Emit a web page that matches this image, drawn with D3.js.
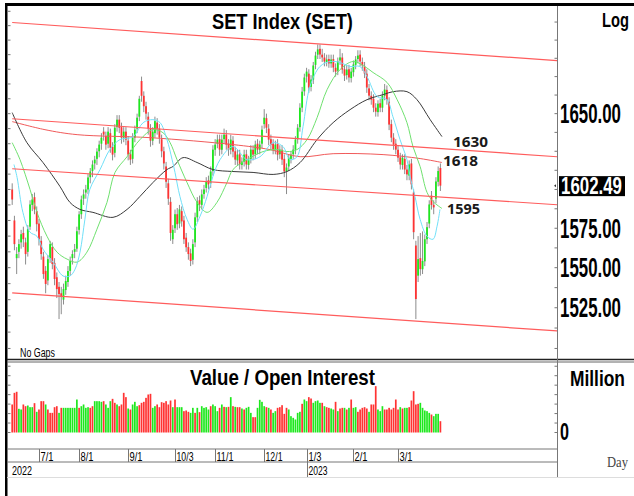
<!DOCTYPE html>
<html><head><meta charset="utf-8">
<script src="https://cdn.jsdelivr.net/npm/d3@7"></script>
<style>body{margin:0;background:#fff}svg{display:block}</style>
</head><body>
<svg id="c" width="634" height="496"></svg>
<script>
// ---------------- DATA ----------------
const openP=[1600,1580,1556,1560,1566,1572,1566,1560,1576,1590,
1595,1586,1578,1567,1557,1548,1542,1556,1563,1553,
1544,1538,1534,1530,1536,1541,1548,1556,1560,1562,
1574,1584,1594,1598,1600,1608,1612,1617,1620,1625,
1630,1638,1635,1630,1637,1628,1624,1641,1646,1641,
1634,1638,1632,1623,1620,1634,1640,1648,1672,1662,
1655,1648,1640,1632,1637,1644,1640,1633,1625,1615,
1604,1592,1568,1575,1584,1578,1586,1580,1569,1563,
1559,1555,1566,1582,1593,1590,1597,1601,1606,1604,
1612,1626,1630,1633,1626,1633,1636,1630,1626,1632,
1625,1619,1623,1616,1618,1623,1616,1620,1626,1623,
1630,1626,1630,1643,1647,1640,1633,1630,1626,1630,
1623,1626,1620,1612,1615,1620,1623,1626,1633,1641,
1654,1665,1675,1677,1668,1673,1683,1690,1694,1690,
1688,1685,1687,1684,1687,1681,1679,1686,1688,1680,
1676,1680,1674,1678,1683,1687,1690,1685,1682,1677,
1667,1662,1660,1654,1651,1657,1654,1662,1666,1658,
1643,1634,1630,1626,1621,1616,1620,1613,1609,1617,
1598,1564,1545,1556,1549,1554,1568,1578,1596,1590,
1594,1605,1614];
const highP=[1604,1583,1563,1568,1574,1576,1569,1577,1593,1597,
1598,1589,1581,1570,1560,1551,1558,1567,1566,1556,
1547,1541,1538,1540,1545,1551,1557,1561,1565,1576,
1586,1596,1600,1603,1610,1614,1619,1622,1627,1632,
1637,1641,1638,1641,1640,1631,1643,1649,1649,1644,
1641,1641,1635,1626,1637,1642,1650,1662,1675,1665,
1658,1651,1643,1641,1648,1647,1643,1636,1628,1618,
1607,1595,1577,1587,1588,1590,1589,1583,1572,1566,
1562,1568,1585,1595,1596,1600,1603,1608,1609,1615,
1629,1633,1636,1636,1636,1640,1639,1633,1636,1635,
1628,1626,1626,1621,1626,1626,1622,1629,1629,1632,
1633,1632,1642,1653,1650,1643,1636,1633,1632,1633,
1629,1629,1623,1617,1623,1625,1629,1635,1643,1657,
1668,1677,1681,1680,1676,1685,1692,1697,1697,1694,
1691,1690,1690,1690,1690,1684,1688,1694,1691,1683,
1683,1683,1681,1686,1689,1693,1693,1688,1685,1680,
1670,1665,1663,1657,1659,1660,1665,1670,1669,1661,
1646,1637,1633,1629,1624,1623,1623,1616,1619,1620,
1600,1567,1570,1572,1573,1571,1579,1593,1599,1593,
1608,1615,1617];
const lowP=[1590,1561,1546,1556,1562,1563,1552,1557,1574,1586,
1584,1573,1564,1555,1543,1534,1539,1553,1549,1539,
1531,1518,1521,1527,1533,1538,1545,1552,1556,1560,
1571,1581,1590,1594,1597,1604,1608,1613,1616,1621,
1626,1632,1626,1627,1624,1619,1621,1638,1637,1630,
1631,1629,1619,1616,1617,1631,1637,1645,1658,1651,
1646,1636,1628,1629,1634,1636,1630,1621,1613,1601,
1590,1567,1565,1572,1574,1575,1576,1565,1560,1555,
1551,1552,1563,1579,1586,1587,1594,1598,1600,1601,
1609,1622,1627,1622,1623,1630,1626,1622,1623,1621,
1616,1616,1613,1613,1615,1613,1613,1617,1619,1620,
1623,1623,1627,1640,1637,1629,1626,1623,1623,1619,
1620,1616,1608,1597,1612,1617,1620,1623,1630,1638,
1651,1662,1671,1664,1665,1670,1680,1687,1687,1685,
1682,1682,1681,1681,1678,1675,1676,1683,1677,1672,
1673,1671,1671,1675,1680,1684,1682,1679,1674,1664,
1659,1656,1651,1648,1648,1651,1651,1659,1656,1639,
1631,1626,1623,1618,1613,1613,1610,1606,1606,1600,
1568,1518,1541,1545,1546,1551,1565,1575,1587,1584,
1591,1602,1599];
const closeP=[1593.5,1564.9,1558.6,1564.9,1571.2,1568.0,1558.6,1574.4,1590.3,1593.5,
1587.1,1577.6,1568.0,1558.6,1546.0,1539.8,1555.4,1564.9,1552.3,1542.9,
1536.6,1533.5,1531.6,1536.6,1541.6,1547.9,1554.2,1558.6,1561.7,1573.1,
1583.9,1593.5,1596.8,1600.0,1607.8,1611.7,1616.3,1619.5,1624.8,1629.4,
1634.0,1636.0,1629.4,1638.0,1627.4,1622.8,1640.6,1646.0,1640.6,1634.0,
1638.0,1632.7,1622.8,1619.5,1634.0,1639.3,1647.3,1660.0,1662.0,1655.0,
1650.0,1640.0,1632.0,1638.0,1645.0,1640.0,1634.0,1625.0,1617.0,1605.0,
1594.0,1572.0,1574.0,1584.0,1577.6,1587.1,1579.4,1568.0,1562.9,1558.6,
1554.2,1564.9,1582.0,1592.2,1590.3,1596.8,1600.0,1605.2,1603.3,1611.7,
1626.1,1629.4,1632.7,1626.1,1632.7,1636.0,1629.4,1626.1,1632.7,1624.8,
1619.5,1622.8,1616.3,1618.2,1622.8,1616.3,1619.5,1626.1,1622.8,1629.4,
1626.1,1629.4,1639.3,1647.3,1640.6,1632.7,1629.4,1626.1,1629.4,1622.8,
1626.1,1619.5,1611.7,1614.3,1620.8,1622.8,1626.1,1632.7,1640.6,1654.0,
1664.8,1674.4,1678.4,1667.6,1673.0,1682.6,1689.4,1693.6,1690.1,1688.1,
1685.3,1686.7,1684.0,1686.7,1681.2,1678.4,1685.3,1688.1,1679.8,1675.7,
1679.8,1674.4,1678.4,1683.3,1686.7,1689.4,1685.3,1682.6,1677.1,1667.6,
1662.1,1659.4,1654.0,1651.3,1656.7,1654.0,1662.1,1666.2,1659.4,1642.7,
1634.0,1629.4,1626.1,1620.8,1616.3,1620.8,1613.0,1609.8,1616.3,1603.3,
1572.5,1530.4,1555.4,1549.1,1554.2,1568.0,1575.7,1590.3,1590.0,1588.4,
1605.2,1612.0,1602.49];
// value traded (million baht) and up/down flag of each volume bar
const volume=[59200,83800,86000,50000,48600,59200,55600,57000,53500,53500,
62000,43700,48600,66200,66200,59200,48600,41500,41500,53500,
55600,41500,52100,52100,52100,52100,52100,52100,52100,69700,
52100,55600,59200,52100,53500,52100,55600,66200,66200,66200,
64800,66200,59200,52100,66200,71100,62700,59200,55600,59200,
83800,74700,50700,48600,59200,64800,55600,57700,62700,64800,
73200,80300,81700,52100,55600,59200,53500,64100,62700,66200,
59200,67600,53500,69700,53500,53500,53500,45100,46500,43700,
41500,52100,41500,52100,43000,55600,52100,53500,48600,55600,
59200,55600,45100,52100,59200,54200,53500,54200,74700,55600,
54200,53500,53500,50700,48600,52100,54200,41500,32400,32400,
52100,69000,64800,55600,53500,52100,48600,41500,45100,52100,
53500,57700,39400,52100,48600,34500,31000,27500,41500,43700,
60600,69700,66200,74700,71800,62700,66200,67600,62700,62700,
55600,53500,52100,50700,48600,64800,45100,50700,52100,52100,
48600,52100,69700,52100,53500,43700,48600,52100,53500,50700,
43700,59200,59200,97900,48600,45100,55600,48600,48600,52100,
48600,52100,69700,48600,53500,50700,52100,52100,53500,67600,
87300,59200,60600,62700,52100,46500,45100,41500,38000,34500,
39400,39400,23900];
const volUp=[0,0,0,1,1,0,0,1,1,1, 0,1,0,0,0,1,0,0,0,0, 0,1,0,1,1,1,1,1,1,1,
0,1,1,1,1,0,0,1,1,1, 1,0,1,1,1,0,0,1,0,0, 0,0,1,0,1,1,1,0,0,0,
0,0,0,1,1,0,0,0,0,0, 0,0,1,0,1,1,1,0,0,0, 1,1,0,1,0,1,1,1,1,0,
1,1,1,0,1,0,1,0,1,0, 1,0,0,1,0,1,1,1,0,0, 1,1,1,1,0,1,0,1,1,0,
0,0,0,0,1,1,1,1,1,1, 0,1,1,0,0,1,1,1,1,0, 1,0,0,1,1,0,1,0,0,1,
0,1,0,1,1,0,0,0,0,0, 1,0,0,0,1,1,1,0,0,0, 0,0,0,0,1,0,1,1,0,0,
0,0,0,1,1,1,1,1,0,1, 1,1,0];
// moving averages (bar index, value)
const maFastIdx=[0.8,2.2,4.8,8.0,11.1,13.8,18.3,22.8,25.9,28.2,30.4,32.6,34.8,39.4,43.8,48.3,54.2,58.7,63.1,66.3,69.4,71.7,73.0,75.2,78.4,81.1,84.2,87.4,90.0,93.2,99.0,105.3,111.1,117.0,121.4,124.6,127.7,130.4,133.5,138.0,142.5,147.0,151.5,155.9,159.1,163.6,168.0,170.7,173.9,177.0,178.4,180.6,182.9,186.0,188.7,190.5,191.8];
const maFastVal=[1616.3,1607.8,1585.2,1572.5,1569.9,1561.7,1553.5,1544.8,1544.8,1549.1,1559.8,1580.7,1600.0,1613.0,1626.1,1632.7,1634.6,1644.0,1646.0,1644.0,1632.7,1619.5,1611.1,1595.5,1580.7,1574.4,1582.6,1595.5,1608.5,1619.5,1628.1,1619.5,1621.4,1630.7,1628.1,1619.5,1621.4,1641.3,1668.2,1681.9,1685.3,1684.6,1681.9,1681.9,1675.0,1661.5,1659.4,1648.0,1632.7,1619.5,1608.5,1595.5,1580.7,1569.9,1568.0,1576.3,1587.1];
const maMidIdx=[0,3.5,8.0,11.1,15.6,20.1,24.6,29.1,33.5,38.0,42.5,46.1,51.5,57.3,63.1,67.6,70.8,73.9,78.4,82.9,87.4,91.8,96.3,99.0,105.3,112.5,118.7,123.2,127.7,132.2,136.7,141.2,147.0,152.8,157.3,161.8,168.1,172.6,177.0,179.7,182.9,186.0,188.7,192.7];
const maMidVal=[1630.7,1619.5,1600.0,1585.2,1569.9,1559.8,1555.4,1553.5,1559.8,1574.4,1591.6,1611.1,1621.4,1632.7,1639.3,1637.3,1630.7,1619.5,1604.5,1591.6,1585.2,1591.6,1604.5,1613.0,1619.5,1624.8,1626.1,1624.8,1626.1,1632.7,1647.3,1666.2,1679.8,1685.3,1682.6,1677.8,1671.0,1659.4,1644.0,1628.1,1615.0,1598.1,1592.2,1587.7];
const maSlowIdx=[0,6.6,13.8,21.4,25.9,30.4,36.2,45.2,51.5,57.3,63.1,69.4,72.1,76.6,82.9,90.0,99.0,108.0,117.0,123.2,129.1,136.7,143.9,151.5,159.1,166.3,170.8,177.0,181.5,187.4,192.7];
const maSlowVal=[1650.7,1630.7,1617.6,1602.0,1591.6,1587.1,1585.2,1582.0,1587.1,1595.5,1604.5,1613.0,1615.0,1620.8,1617.6,1613.0,1611.7,1611.1,1609.8,1611.7,1617.6,1632.7,1644.0,1652.7,1659.4,1662.8,1664.8,1664.8,1659.4,1646.0,1634.7];
const maLongIdx=[0,14.7,29.1,61.8,99.0,115.6,129.1,143.9,166.3,182.9,192.7];
const maLongVal=[1644.7,1639.3,1636.0,1634.0,1629.4,1626.1,1621.4,1623.4,1622.8,1620.2,1617.6];
// trend channel lines (start/end bar index and value)
const channelIdx=[0,244.3];
const chTop=[1712.2,1685.9];
const chUpper=[1646.6,1621.4];
const chLower=[1613.5,1590.1];
const chBottom=[1534.2,1510.7];
const maLabels=["1630","1618","1595"];
// axis
const priceTicks=[1650,1575,1550,1525];
const lastPrice=1602.49;
const dateTickIdx=[12,30,52,73,91,113,132,153,173];
const dateTickLbl=["7/1","8/1","9/1","10/3","11/1","12/1","1/3","2/1","3/1"];
const yearIdx=[null,132];
const yearLbl=["2022","2023"];

// ---------------- CHART ----------------
const W=634,H=496;
const svg=d3.select('#c');
const N=closeP.length;
const x=d3.scaleLinear().domain([0,192]).range([12.2,440.4]);
const y=d3.scaleLog().domain([1493.6,1723]).range([359,7]);
const yv=d3.scaleLinear().domain([0,150000]).range([432.5,361.5]);
const RED='#ff3333',GREEN='#1ee81e',WICK='#8c8c8c';
const FONT='"Liberation Sans", Arial, sans-serif';

svg.append('rect').attr('width',W).attr('height',H).attr('fill','#fff');
const defs=svg.append('defs');
defs.append('clipPath').attr('id','cp').append('rect').attr('x',8).attr('y',7).attr('width',549.5).attr('height',351);

// text helper: condensed by horizontal scaling to a target width
function txt(g,str,px,py,o){
  const gg=g.append('g');
  const t=gg.append('text').attr('x',0).attr('y',0).text(str)
    .attr('font-family',o.f||FONT).attr('font-size',o.s)
    .attr('font-weight',o.w||'normal').attr('fill',o.c||'#000');
  let sx=1;
  if(o.len){const nat=t.node().getComputedTextLength(); if(nat>0) sx=o.len/nat;}
  gg.attr('transform',`translate(${px},${py}) scale(${sx},1)`);
  return gg;
}

// minor ticks on main panel
const minor=d3.range(1500,1721,10);
svg.append('g').selectAll('line').data(minor).join('line')
  .attr('x1',8).attr('x2',10.5).attr('y1',d=>y(d)).attr('y2',d=>y(d))
  .attr('stroke','#777').attr('stroke-width',1);
const rminor=d3.range(1500,1721,12.5);
svg.append('g').selectAll('line').data(rminor).join('line')
  .attr('x1',554.5).attr('x2',557.5).attr('y1',d=>y(d)).attr('y2',d=>y(d))
  .attr('stroke','#777').attr('stroke-width',1);
// volume panel ticks
const vminor=d3.range(0,150001,20000);
svg.append('g').selectAll('line').data(vminor).join('line')
  .attr('x1',8).attr('x2',10.5).attr('y1',d=>yv(d)).attr('y2',d=>yv(d))
  .attr('stroke','#777');
svg.append('g').selectAll('line').data(vminor).join('line')
  .attr('x1',554.5).attr('x2',557.5).attr('y1',d=>yv(d)).attr('y2',d=>yv(d))
  .attr('stroke','#777');

const main=svg.append('g').attr('clip-path','url(#cp)');
const idx=d3.range(N);

// candles
const cg=main.append('g');
cg.selectAll('line').data(idx).join('line')
  .attr('x1',i=>x(i)).attr('x2',i=>x(i))
  .attr('y1',i=>y(highP[i])).attr('y2',i=>y(lowP[i]))
  .attr('stroke',WICK).attr('stroke-width',1);
cg.selectAll('rect').data(idx).join('rect')
  .attr('x',i=>x(i)-0.9).attr('width',1.8)
  .attr('y',i=>y(Math.max(openP[i],closeP[i])))
  .attr('height',i=>Math.max(1,Math.abs(y(openP[i])-y(closeP[i]))))
  .attr('fill',i=>closeP[i]>=openP[i]?GREEN:RED);

// moving averages
function maLine(ix,vals,col,w){
  const pts=ix.map((d,k)=>[d,vals[k]]);
  main.append('path').datum(pts)
    .attr('d',d3.line().x(d=>x(d[0])).y(d=>y(d[1])).curve(d3.curveCatmullRom.alpha(0.5)))
    .attr('fill','none').attr('stroke',col).attr('stroke-width',w);
}
maLine(maLongIdx,maLongVal,'#f05a5a',1);
maLine(maSlowIdx,maSlowVal,'#3a3a3a',1);
maLine(maMidIdx,maMidVal,'#6fe06f',1);
maLine(maFastIdx,maFastVal,'#70e0f8',1);

// channel lines
[chTop,chUpper,chLower,chBottom].forEach(c=>{
  main.append('line')
    .attr('x1',x(channelIdx[0])).attr('y1',y(c[0]))
    .attr('x2',x(channelIdx[1])).attr('y2',y(c[1]))
    .attr('stroke','#ff5c5c').attr('stroke-width',1.2);
});

// MA labels
const lastI=maSlowIdx[maSlowIdx.length-1];
const lf='"Open Sans", "DejaVu Sans", sans-serif';
txt(svg,maLabels[0],x(lastI)+11,y(maSlowVal[maSlowVal.length-1])+10,{s:15,w:'bold',f:lf,c:'#1a1a1a',len:35});
txt(svg,maLabels[1],x(lastI)+1,y(maLongVal[maLongVal.length-1])+3,{s:15,w:'bold',f:lf,c:'#1a1a1a',len:35});
txt(svg,maLabels[2],x(lastI)+5,y(maMidVal[maMidVal.length-1])+6,{s:15,w:'bold',f:lf,c:'#1a1a1a',len:33});

// volume bars
svg.append('g').selectAll('rect').data(idx).join('rect')
  .attr('x',i=>x(i)-0.85).attr('width',1.7)
  .attr('y',i=>yv(volume[i])).attr('height',i=>yv(0)-yv(volume[i]))
  .attr('fill',i=>volUp[i]?GREEN:RED);

// frame lines
svg.append('rect').attr('x',5).attr('y',3).attr('width',629).attr('height',3).attr('fill','#000');
svg.append('rect').attr('x',5).attr('y',3).attr('width',2.5).attr('height',493).attr('fill','#000');
svg.append('line').attr('x1',7).attr('x2',634).attr('y1',359.5).attr('y2',359.5).attr('stroke','#222').attr('stroke-width',1.5);
svg.append('line').attr('x1',7).attr('x2',634).attr('y1',362).attr('y2',362).attr('stroke','#666').attr('stroke-width',1);
svg.append('line').attr('x1',7).attr('x2',557.5).attr('y1',449).attr('y2',449).attr('stroke','#777');
svg.append('line').attr('x1',7).attr('x2',557.5).attr('y1',462).attr('y2',462).attr('stroke','#777');
svg.append('line').attr('x1',7).attr('x2',634).attr('y1',477.5).attr('y2',477.5).attr('stroke','#ddd');
svg.append('line').attr('x1',557.5).attr('x2',557.5).attr('y1',6).attr('y2',477).attr('stroke','#777');

// date axis
const dg=svg.append('g');
dg.selectAll('line').data(dateTickIdx).join('line')
  .attr('x1',d=>Math.round(x(d))+0.5).attr('x2',d=>Math.round(x(d))+0.5)
  .attr('y1',449).attr('y2',462).attr('stroke','#777');
dateTickIdx.forEach((d,k)=>{
  txt(dg,dateTickLbl[k],Math.round(x(d))+1.5,461,{s:13,len:dateTickLbl[k].length>3?17:13});
});
dg.append('line').attr('x1',Math.round(x(yearIdx[1]))+0.5).attr('x2',Math.round(x(yearIdx[1]))+0.5)
  .attr('y1',462).attr('y2',477).attr('stroke','#777');
txt(dg,yearLbl[0],12,475,{s:13,len:20});
txt(dg,yearLbl[1],Math.round(x(yearIdx[1]))+1.5,475,{s:13,len:19});

// titles and right labels
txt(svg,'SET Index (SET)',212,29,{s:22,w:'bold',len:141});
txt(svg,'Log',602,27,{s:21,w:'bold',len:27});
priceTicks.forEach(v=>{
  txt(svg,d3.format('.2f')(v),560,y(v)+9.5,{s:27,w:'bold',len:61});
});
svg.append('rect').attr('x',559).attr('y',y(lastPrice)-9.5).attr('width',66).attr('height',20).attr('fill','#000');
txt(svg,d3.format('.2f')(lastPrice),561,y(lastPrice)+8.5,{s:24,w:'bold',c:'#fff',len:61});
svg.append('path').attr('d',`M554,${y(lastPrice)} l2,-1.5 v3 z`).attr('fill','#333');
txt(svg,'No Gaps',20,357,{s:12,len:35});
txt(svg,'Value / Open Interest',190,385,{s:22,w:'bold',len:185});
txt(svg,'Million',570,386,{s:22,w:'bold',len:55});
txt(svg,'0',560,440,{s:24,w:'bold',len:9});
txt(svg,'Day',607,467,{s:15,f:'"Liberation Serif", serif',c:'#444',len:21});
</script>
</body></html>
